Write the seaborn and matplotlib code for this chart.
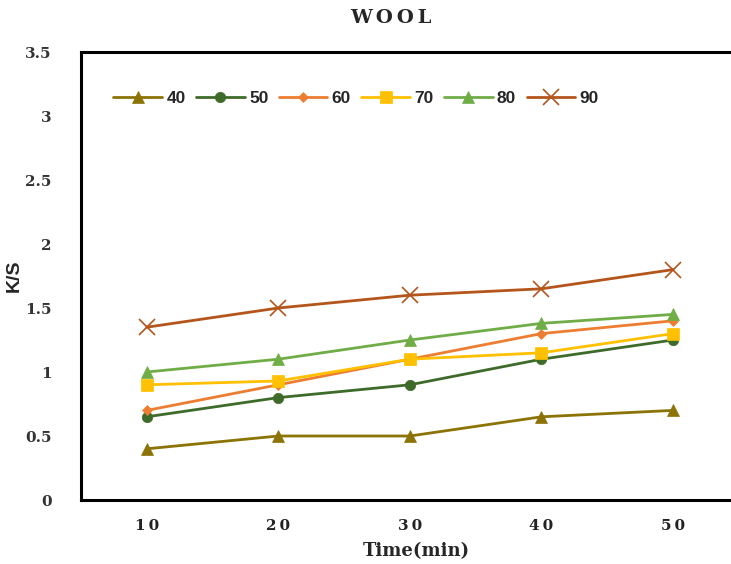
import matplotlib
matplotlib.use("Agg")
import matplotlib.pyplot as plt
import seaborn as sns
import pandas as pd

times = ["10", "20", "30", "40", "50"]
series_names = ["40", "50", "60", "70", "80", "90"]
s40 = [0.40, 0.50, 0.50, 0.65, 0.70]
s50 = [0.65, 0.80, 0.90, 1.10, 1.25]
s60 = [0.70, 0.90, 1.10, 1.30, 1.40]
s70 = [0.90, 0.93, 1.10, 1.15, 1.30]
s80 = [1.00, 1.10, 1.25, 1.38, 1.45]
s90 = [1.35, 1.50, 1.60, 1.65, 1.80]
values = [s40, s50, s60, s70, s80, s90]

colors = ["#8C7306", "#3F6B2A", "#ED7D31", "#FFC000", "#70AD47", "#B4551C"]
markers = ["^", "o", "D", "s", "^", "x"]
msizes = [8, 7.5, 5.5, 8, 8, 11]

sns.set_style("white")
fig = plt.figure(figsize=(7.31, 5.64), dpi=100)
ax = fig.add_axes([81/731, 64/564, 671/731, 448/564])

rows = []
for name, vals in zip(series_names, values):
    for t, v in zip(times, vals):
        rows.append({"time": t, "ks": v, "series": name})
df = pd.DataFrame(rows)

for name, c, m, ms in zip(series_names, colors, markers, msizes):
    sub = df[df["series"] == name]
    sns.lineplot(data=sub, x="time", y="ks", ax=ax, color=c, marker=m,
                 markersize=ms, linewidth=2, markeredgecolor=c,
                 markeredgewidth=1.2 if m == "x" else 0.5, label=name, sort=False)

ax.set_xlim(-0.5, 4.6)
ax.set_ylim(0, 3.5)
ax.set_yticks([0, 0.5, 1, 1.5, 2, 2.5, 3, 3.5])
ax.set_yticklabels(["0", "0.5", "1", "1.5", "2", "2.5", "3", "3.5"],
                   family="DejaVu Serif", fontweight="bold", fontsize=11, color="#333333")
ax.set_xticks(range(len(times)))
ax.set_xticklabels(["\u2009".join(t) for t in times], family="DejaVu Serif",
                   fontweight="bold", fontsize=11, color="#222222")
ax.tick_params(axis="x", length=0, pad=14)
ax.tick_params(axis="y", length=0, pad=21)

for sp in ax.spines.values():
    sp.set_color("black")
    sp.set_linewidth(2.2)

ax.set_xlabel("Time(min)", family="DejaVu Serif", fontweight="bold", fontsize=13, labelpad=6)
ax.set_ylabel("K/S", family="Liberation Sans", fontweight="bold", fontsize=14, labelpad=2)
fig.text(0.534, 0.968, "W\u2009O\u2009O\u2009L", ha="center", va="center", family="DejaVu Serif",
         fontweight="bold", fontsize=14)

leg = ax.legend(loc="upper left", bbox_to_anchor=(0.025, 0.948), ncol=6, frameon=False,
                handlelength=2.8, handletextpad=0.25, columnspacing=0.6,
                prop={"family": "Liberation Sans", "weight": "bold", "size": 12.5})

fig.savefig("out.png", dpi=100)
